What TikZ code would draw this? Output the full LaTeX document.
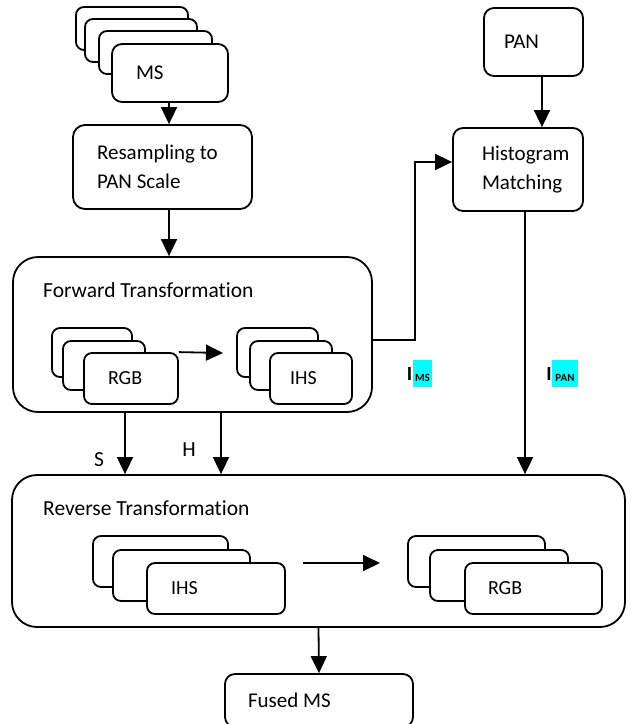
\documentclass[tikz,border=0pt]{standalone}
\usepackage{fontspec}
\setmainfont{Carlito}[Ligatures=NoCommon]
\usepackage{tikz}
\usetikzlibrary{arrows.meta}
\definecolor{hlcyan}{HTML}{00FFFF}

\begin{document}
\begin{tikzpicture}[x=1pt,y=-1pt,%
box/.style={draw,line width=1.8pt,fill=white,rounded corners=10pt,align=flush left,font=\fontsize{21}{29}\selectfont},
layer/.style={draw,line width=1.8pt,fill=white,rounded corners=8pt,align=flush left,font=\fontsize{20}{24}\selectfont},
stage/.style={draw,line width=1.8pt,rounded corners=25pt},
title/.style={anchor=west,inner sep=0pt,font=\fontsize{21.5}{29}\selectfont},
arrow/.style={line width=1.8pt,draw=black,-{Triangle[length=17pt,width=16pt]}},
hl/.style={fill=hlcyan,inner sep=0pt,minimum height=27pt},
sub/.style={inner sep=0pt,font=\fontsize{11}{11}\selectfont\bfseries},
bigi/.style={inner sep=0pt,anchor=south east,font=\fontsize{20}{20}\selectfont\bfseries}
]
\useasboundingbox (0,0) rectangle (638,724);
% input stack
\node[style=layer,minimum width=112pt,minimum height=43pt] (ms back1) at (132,28.5) {};
\node[style=layer,minimum width=112pt,minimum height=43pt] (ms back2) at (141,40.5) {};
\node[style=layer,minimum width=113pt,minimum height=43pt] (ms back3) at (155.5,52.5) {};
\node[style=box,text width=68pt,inner xsep=24pt,minimum height=58pt] (ms) at (170,73) {MS};
\node[style=box,text width=131pt,inner xsep=24pt,minimum height=84pt,rounded corners=12pt] (res) at (162.5,167) {Resampling to\\PAN Scale};
\node[style=box,text width=59pt,inner xsep=20pt,minimum height=68pt] (pan) at (533.5,42) {PAN};
\node[style=box,text width=72pt,inner xsep=29pt,minimum height=83pt] (hist) at (518,169.5) {Histogram\\Matching};
% forward
\node[style=stage,minimum width=359pt,minimum height=155pt] (fwd) at (192.5,334.5) {};
\node[style=title] (fwd title) at (43,290) {Forward Transformation};
\node[style=layer,minimum width=80pt,minimum height=49pt] (fwd rgb1) at (92,352.5) {};
\node[style=layer,minimum width=82pt,minimum height=49pt] (fwd rgb2) at (104,365.5) {};
\node[style=layer,text width=46pt,inner xsep=24pt,minimum height=51pt] (fwd rgb) at (131,378.5) {RGB};
\node[style=layer,minimum width=81pt,minimum height=49pt] (fwd ihs1) at (277.5,352.5) {};
\node[style=layer,minimum width=82pt,minimum height=49pt] (fwd ihs2) at (291,365.5) {};
\node[style=layer,text width=42pt,inner xsep=20pt,minimum height=51pt] (fwd ihs) at (311,378.5) {IHS};
% reverse
\node[style=stage,minimum width=613pt,minimum height=152pt] (rev) at (318.5,551) {};
\node[style=title] (rev title) at (43,508) {Reverse Transformation};
\node[style=layer,minimum width=135pt,minimum height=51pt] (rev ihs1) at (160.5,561.5) {};
\node[style=layer,minimum width=137pt,minimum height=51pt] (rev ihs2) at (181.5,575.5) {};
\node[style=layer,text width=90pt,inner xsep=24pt,minimum height=51pt] (rev ihs) at (216,588.5) {IHS};
\node[style=layer,minimum width=137pt,minimum height=51pt] (rev rgb1) at (476.5,561.5) {};
\node[style=layer,minimum width=138pt,minimum height=51pt] (rev rgb2) at (499,575.5) {};
\node[style=layer,text width=91pt,inner xsep=23pt,minimum height=51pt] (rev rgb) at (533.5,588.5) {RGB};
\node[style=box,text width=142pt,inner xsep=23pt,minimum height=53pt] (fused) at (319,700.5) {Fused MS};
% labels
\node[style=title,anchor=center] (s lbl) at (99,460) {S};
\node[style=title,anchor=center] (h lbl) at (189,450) {H};
\node[style=hl,minimum width=19pt] (ims hl) at (422.5,373.5) {};
\node[style=sub] (ims sub) at (422.5,378) {MS};
\node[style=bigi] (ims i) at (412.5,381) {I};
\node[style=hl,minimum width=26pt] (ipan hl) at (565,373.5) {};
\node[style=sub] (ipan sub) at (565,378) {PAN};
\node[style=bigi] (ipan i) at (552,381) {I};
% connectors
\coordinate (main x) at (169,0);
\coordinate (pan x) at (542,0);
\coordinate (ipan x) at (525,0);
\coordinate (s x) at (125,0);
\coordinate (h x) at (221,0);
\coordinate (hist turn) at (415,340);
\coordinate (fwd end) at (223,353);
\coordinate (rev start) at (303,563);
\coordinate (rev end) at (380,563);
\path[style=arrow] (main x |- ms.south) -- (main x |- res.north);
\path[style=arrow] (main x |- res.south) -- (main x |- fwd.north);
\path[style=arrow] (pan x |- pan.south) -- (pan x |- hist.north);
\path[style=arrow] (hist turn -| fwd.east) -- (hist turn) |- ([yshift=7.5pt]hist.west);
\path[style=arrow] (ipan x |- hist.south) -- (ipan x |- rev.north);
\path[style=arrow] (fwd rgb.north east) -- (fwd end);
\path[style=arrow] (s x |- fwd.south) -- (s x |- rev.north);
\path[style=arrow] (h x |- fwd.south) -- (h x |- rev.north);
\path[style=arrow] (rev start) -- (rev end);
\path[style=arrow] (rev.south) -- (fused.north);
\end{tikzpicture}
\end{document}
